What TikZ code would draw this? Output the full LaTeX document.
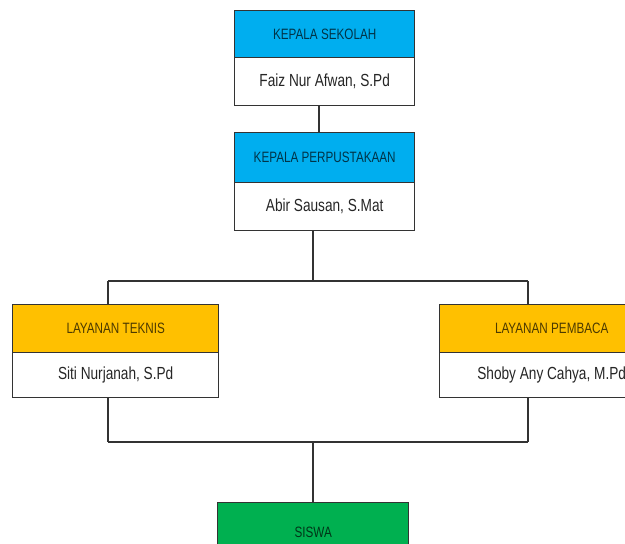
\documentclass[tikz,border=0pt]{standalone}
\usepackage{fontspec}
\setmainfont{Liberation Sans}[FakeStretch=0.78]
\definecolor{hblue}{HTML}{00AEEF}
\definecolor{horange}{HTML}{FFC000}
\definecolor{hgreen}{HTML}{00B050}
\definecolor{edge}{HTML}{333333}
\begin{document}
\begin{tikzpicture}[x=1pt,y=-1pt,
  boxline/.style={draw=edge,line width=1.4pt},
  head/.style={boxline,rectangle,anchor=north west,inner sep=0pt,font=\fontsize{15}{17}\selectfont},
  namebox/.style={boxline,rectangle,fill=white,anchor=north west,inner sep=0pt,font=\fontsize{17.5}{20}\selectfont,text=black!85},
  conn/.style={draw=edge,line width=1.3pt}]
\useasboundingbox (0,0) rectangle (625,544);
\clip (0,0) rectangle (625,544);
\fill[white] (0,0) rectangle (625,544);
% top: Kepala Sekolah
\node[head,fill=hblue,text=hblue!30!black,minimum width=180pt,minimum height=47pt] (ks) at (234,10) {KEPALA SEKOLAH};
\node[namebox,minimum width=180pt,minimum height=48pt] (ksn) at (234,57) {Faiz Nur Afwan, S.Pd};
% Kepala Perpustakaan
\node[head,fill=hblue,text=hblue!30!black,minimum width=180pt,minimum height=50pt] (kp) at (234,132) {KEPALA PERPUSTAKAAN};
\node[namebox,minimum width=180pt,minimum height=48pt] (kpn) at (234,182) {Abir Sausan, S.Mat};
% Layanan Teknis
\node[head,fill=horange,text=horange!30!black,minimum width=206pt,minimum height=48pt] (lt) at (12,304) {LAYANAN TEKNIS};
\node[namebox,minimum width=206pt,minimum height=45pt] (ltn) at (12,352) {Siti Nurjanah, S.Pd};
% Layanan Pembaca
\node[head,fill=horange,text=horange!30!black,minimum width=224pt,minimum height=48pt] (lp) at (439,304) {LAYANAN PEMBACA};
\node[namebox,minimum width=224pt,minimum height=45pt] (lpn) at (439,352) {Shoby Any Cahya, M.Pd};
% Siswa
\node[head,fill=hgreen,text=hgreen!30!black,minimum width=191pt,minimum height=60pt] (sw) at (217,502) {SISWA};
% coordinates
\coordinate (j1) at (313,281);
\coordinate (j1l) at (108,281);
\coordinate (j1r) at (528,281);
\coordinate (j2) at (313,442);
\coordinate (j2l) at (108,442);
\coordinate (j2r) at (528,442);
% connectors
\draw[conn] (ksn.south -| 319,0) -- (kp.north -| 319,0);
\draw[conn] (kpn.south -| j1) -- (j1);
\draw[conn] (j1l) -- (j1r);
\draw[conn] (j1l) -- (lt.north -| j1l);
\draw[conn] (j1r) -- (lp.north -| j1r);
\draw[conn] (ltn.south -| j2l) -- (j2l);
\draw[conn] (lpn.south -| j2r) -- (j2r);
\draw[conn] (j2l) -- (j2r);
\draw[conn] (j2) -- (sw.north -| j2);
\end{tikzpicture}
\end{document}
